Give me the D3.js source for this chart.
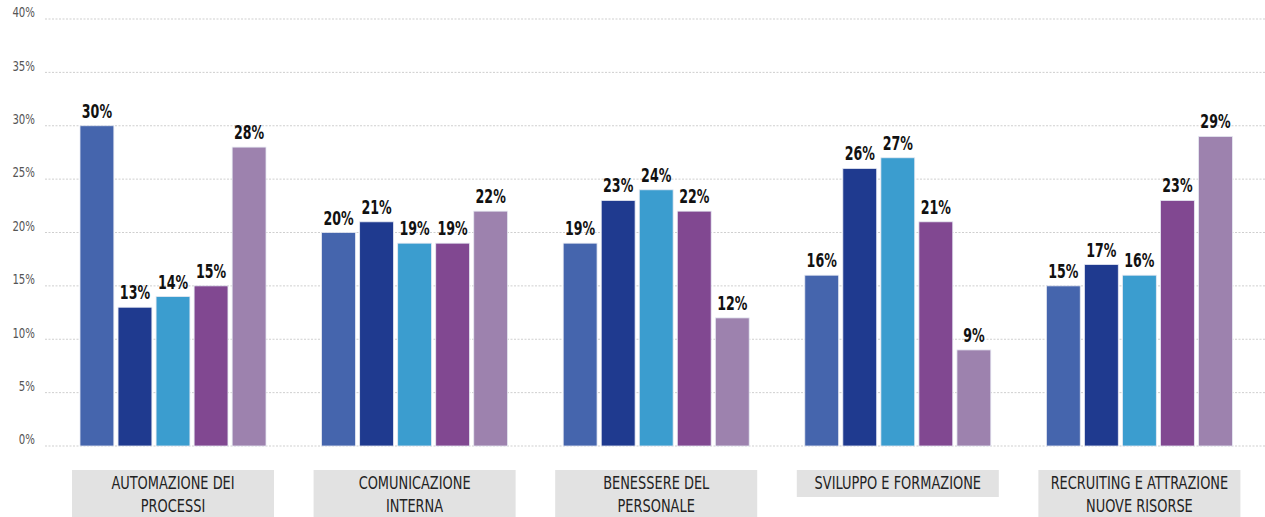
<!DOCTYPE html>
<html>
<head>
<meta charset="utf-8">
<script src="https://cdn.jsdelivr.net/npm/d3@7"></script>
<style>
  html, body { margin: 0; padding: 0; background: #fff; }
  svg { display: block; }
  .cond { font-family: "DejaVu Sans Condensed", "DejaVu Sans", sans-serif; }
</style>
</head>
<body>
<svg id="chart" width="1265" height="517"></svg>
<script>
// Categories (two-line labels where the box wraps)
const categories = [
  ["AUTOMAZIONE DEI", "PROCESSI"],
  ["COMUNICAZIONE", "INTERNA"],
  ["BENESSERE DEL", "PERSONALE"],
  ["SVILUPPO E FORMAZIONE"],
  ["RECRUITING E ATTRAZIONE", "NUOVE RISORSE"]
];

// Five series, one value per category (percent)
const series1 = [30, 20, 19, 16, 15];
const series2 = [13, 21, 23, 26, 17];
const series3 = [14, 19, 24, 27, 16];
const series4 = [15, 19, 22, 21, 23];
const series5 = [28, 22, 12, 9, 29];

const yTicks = [0, 5, 10, 15, 20, 25, 30, 35, 40];
const seriesColors = ["#4565ad", "#1f3a8f", "#3b9dcf", "#814891", "#9d82ae"];

const allSeries = [series1, series2, series3, series4, series5];

const svg = d3.select("#chart");
const W = 1265, H = 517;

const y = d3.scaleLinear().domain([0, 40]).range([446, 19]);
const x0 = d3.scaleBand().domain(d3.range(categories.length)).range([52, 1260]).paddingInner(0).paddingOuter(0);
const x1 = d3.scaleBand().domain(d3.range(allSeries.length)).range([28, 214]).paddingInner(0.11).paddingOuter(0);

// Dotted gridlines
svg.append("g").selectAll("line").data(yTicks).join("line")
  .attr("x1", 45).attr("x2", W)
  .attr("y1", d => y(d)).attr("y2", d => y(d))
  .attr("stroke", "#cfcfcf").attr("stroke-width", 1)
  .attr("stroke-dasharray", "2,1.5");

// Y axis labels (narrowed horizontally for a condensed look)
const yAxis = d3.axisLeft(y).tickValues(yTicks).tickFormat(d => d + "%").tickSize(0).tickPadding(0);
const ya = svg.append("g").attr("transform", "translate(35,0)").call(yAxis);
ya.select(".domain").remove();
ya.selectAll("text")
  .attr("class", "cond")
  .attr("font-size", 14.5)
  .attr("fill", "#555")
  .attr("dy", "-0.15em")
  .attr("transform", "scale(0.78,1)");

// Bars per category
const groups = svg.append("g").selectAll("g").data(categories).join("g")
  .attr("transform", (d, i) => `translate(${x0(i)},0)`);

groups.each(function(cat, ci) {
  const g = d3.select(this);
  const vals = allSeries.map((s, si) => ({ si, v: s[ci] }));
  g.selectAll("rect").data(vals).join("rect")
    .attr("x", d => x1(d.si))
    .attr("y", d => y(d.v))
    .attr("width", x1.bandwidth())
    .attr("height", d => y(0) - y(d.v))
    .attr("fill", d => seriesColors[d.si])
    .attr("stroke", "#e6e9f2").attr("stroke-width", 0.8);
  g.selectAll("text.val").data(vals).join("text")
    .attr("class", "val cond")
    .attr("transform", d => `translate(${x1(d.si) + x1.bandwidth() / 2},${y(d.v) - 8}) scale(0.72,1)`)
    .attr("text-anchor", "middle")
    .attr("font-size", 19.5)
    .attr("font-weight", "bold")
    .attr("fill", "#111")
    .text(d => d.v + "%");

  // Category label box
  const bx = 20, bw = 202;
  const bh = cat.length > 1 ? 50 : 27;
  g.append("rect")
    .attr("x", bx).attr("y", 470)
    .attr("width", bw).attr("height", bh)
    .attr("fill", "#e2e2e2");
  cat.forEach((line, li) => {
    g.append("text")
      .attr("class", "cond")
      .attr("transform", `translate(${bx + bw / 2},${489 + li * 23}) scale(0.8,1)`)
      .attr("text-anchor", "middle")
      .attr("font-size", 18)
      .attr("fill", "#222")
      .text(line);
  });
});
</script>
</body>
</html>
